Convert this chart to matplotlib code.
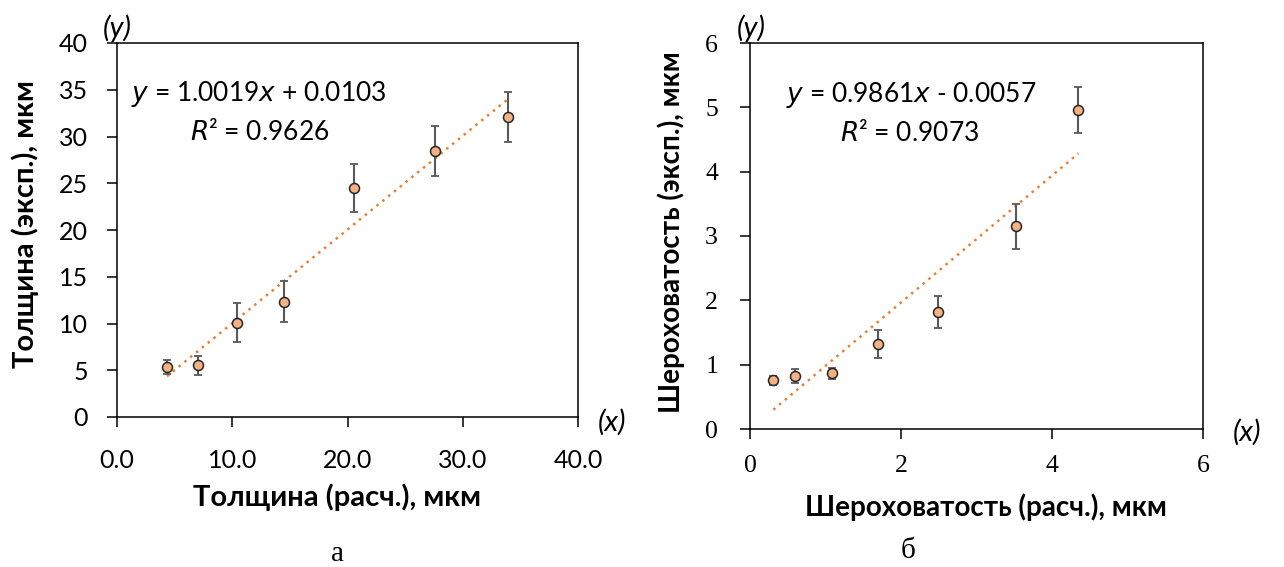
import matplotlib
matplotlib.use("Agg")
import matplotlib.pyplot as plt
import numpy as np

# Panel (а): coating thickness, calculated vs experimental, µm
thick_calc = [4.34, 7.0, 10.38, 14.46, 20.53, 27.56, 33.95]
thick_exp = [5.38, 5.53, 10.09, 12.33, 24.53, 28.41, 32.09]
thick_err = [0.75, 1.03, 2.1, 2.2, 2.58, 2.68, 2.7]
thick_fit = (1.0019, 0.0103, 0.9626)

# Panel (б): roughness, calculated vs experimental, µm
rough_calc = [0.31, 0.60, 1.08, 1.70, 2.49, 3.52, 4.35]
rough_exp = [0.755, 0.82, 0.865, 1.32, 1.82, 3.15, 4.96]
rough_err = [0.07, 0.11, 0.09, 0.22, 0.25, 0.345, 0.36]
rough_fit = (0.9861, -0.0057, 0.9073)

SANS = "Lato"
SERIF = "Liberation Serif"
MARKER_FACE = "#F4B183"
TREND = "#ED7D31"
ERR = "#595959"

W, H = 1284, 567
fig = plt.figure(figsize=(W / 100, H / 100), dpi=100)


def px_axes(x0, y0, x1, y1):
    return fig.add_axes([x0 / W, 1 - y1 / H, (x1 - x0) / W, (y1 - y0) / H])


def px_text(x, y, s, **kw):
    kw.setdefault("ha", "center")
    kw.setdefault("va", "center")
    return fig.text(x / W, 1 - y / H, s, **kw)


def draw_panel(ax, x, y, err, fit, xticks, yticks, fmt, tick_font, tick_size):
    k, b, r2 = fit
    ax.errorbar(x, y, yerr=err, fmt="none", ecolor=ERR, elinewidth=1.5,
                capsize=3, capthick=1.3, zorder=2)
    ax.plot(x, y, "o", ms=7.2, mfc=MARKER_FACE, mec="#262626", mew=1.1, zorder=3)
    xs = np.array([min(x), max(x)])
    ax.plot(xs, k * xs + b, ls=(0, (1, 2)), color=TREND, lw=1.8, zorder=1)
    ax.set_xlim(xticks[0], xticks[-1])
    ax.set_ylim(yticks[0], yticks[-1])
    ax.set_xticks(xticks)
    ax.set_yticks(yticks)
    ax.set_xticklabels([fmt[0] % t for t in xticks], fontfamily=tick_font, fontsize=tick_size)
    ax.set_yticklabels([fmt[1] % t for t in yticks], fontfamily=tick_font, fontsize=tick_size)
    for s in ax.spines.values():
        s.set_linewidth(1.1)
        s.set_color("black")
    ax.tick_params(direction="out", length=7, width=1.1)


EQ = dict(fontfamily=SANS, fontsize=19)
AXNAME = dict(fontfamily=SANS, style="italic", fontsize=21)
CAPTION = dict(fontfamily=SERIF, fontsize=21)

# Panel а
ax1 = px_axes(117, 43, 578, 417)
draw_panel(ax1, thick_calc, thick_exp, thick_err, thick_fit,
           np.arange(0, 41, 10), np.arange(0, 41, 5), ("%.1f", "%d"), SANS, 18)
ax1.tick_params(axis="x", pad=16)
ax1.tick_params(axis="y", pad=14)
px_text(259, 94, r"$\it{y}$ = %.4f$\it{x}$ + %.4f" % (thick_fit[0], thick_fit[1]), **EQ)
px_text(260, 132, r"$\it{R}$² = %.4f" % thick_fit[2], **EQ)
LABEL_A = dict(fontfamily=SANS, fontweight="bold", fontsize=21)
px_text(337, 497, "Толщина (расч.), мкм", **LABEL_A)
px_text(25, 224, "Толщина (эксп.), мкм", rotation=90, **LABEL_A)
px_text(117, 28, "(y)", **AXNAME)
px_text(612, 422, "(x)", **AXNAME)
px_text(337, 554, "а", **CAPTION)

# Panel б
ax2 = px_axes(750, 43, 1203, 429)
draw_panel(ax2, rough_calc, rough_exp, rough_err, rough_fit,
           np.arange(0, 7, 2), np.arange(0, 7, 1), ("%d", "%d"), SERIF, 18.5)
ax2.tick_params(axis="x", pad=12)
ax2.tick_params(axis="y", pad=16)
px_text(911, 95, r"$\it{y}$ = %.4f$\it{x}$ - %.4f" % (rough_fit[0], abs(rough_fit[1])), **EQ)
px_text(910, 133, r"$\it{R}$² = %.4f" % rough_fit[2], **EQ)
LABEL_B = dict(fontfamily=SANS, fontweight="bold", fontsize=20)
px_text(986, 507, "Шероховатость (расч.), мкм", **LABEL_B)
px_text(671, 232, "Шероховатость (эксп.), мкм", rotation=90, **LABEL_B)
px_text(751, 28, "(y)", **AXNAME)
px_text(1247, 432, "(x)", **AXNAME)
px_text(908, 551, "б", **CAPTION)

fig.savefig("out.png", dpi=100)
